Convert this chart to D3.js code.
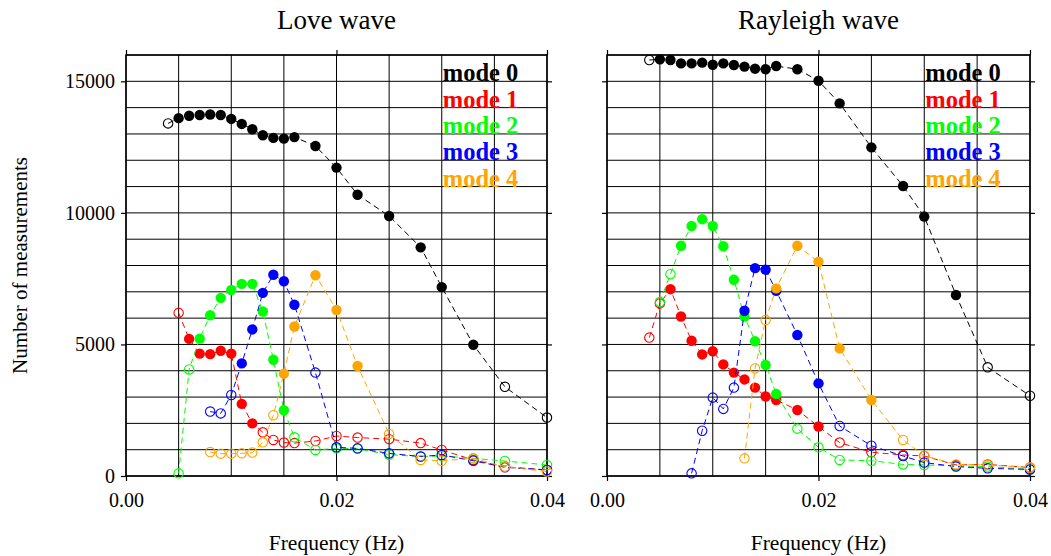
<!DOCTYPE html>
<html>
<head>
<meta charset="utf-8">
<script src="https://cdn.jsdelivr.net/npm/d3@7/dist/d3.min.js"></script>
<style>
  body { margin: 0; background: #fff; }
  text { font-family: "Liberation Serif", "Times New Roman", serif; fill: #000; }
</style>
</head>
<body>
<svg id="chart" width="1051" height="556"></svg>
<script>
// Frequency grid (Hz) shared by every series; null = no measurement at that frequency
const freqs = [0.004, 0.005, 0.006, 0.007, 0.008, 0.009, 0.010, 0.011, 0.012, 0.013, 0.014,
               0.015, 0.016, 0.018, 0.020, 0.022, 0.025, 0.028, 0.030, 0.033, 0.036, 0.040];

const modeNames  = ["mode 0", "mode 1", "mode 2", "mode 3", "mode 4"];
const modeColors = ["#000000", "#ff0000", "#00ff00", "#0000ff", "#ffa500"];

// Love wave: number of measurements per mode
const loveMode0 = [13400, 13600, 13690, 13720, 13740, 13720, 13570, 13380, 13180, 12950, 12850,
                   12820, 12880, 12540, 11720, 10690, 9880, 8690, 7180, 4990, 3390, 2220];
const loveMode1 = [null, 6200, 5210, 4650, 4630, 4760, 4650, 2740, 2000, 1660, 1370,
                   1270, 1250, 1330, 1520, 1460, 1400, 1250, 990, 610, 350, 230];
const loveMode2 = [null, 100, 4050, 5220, 6110, 6770, 7070, 7300, 7300, 6250, 4420,
                   2500, 1470, 990, 1050, 1040, 810, 740, 760, 670, 570, 420];
const loveMode3 = [null, null, null, null, 2450, 2380, 3080, 4280, 5570, 6960, 7650,
                   7400, 6510, 3930, 1090, 1050, 860, 740, 800, 580, 330, 230];
const loveMode4 = [null, null, null, null, 910, 850, 850, 860, 890, 1280, 2310,
                   3890, 5680, 7630, 6310, 4180, 1600, 610, 580, 670, 350, 170];

// Love wave: 1 = filled marker, 0 = open marker
const loveFilled0 = [0,1,1,1,1,1,1,1,1,1,1,1,1,1,1,1,1,1,1,1,0,0];
const loveFilled1 = [0,0,1,1,1,1,1,1,1,0,0,0,0,0,0,0,0,0,0,0,0,0];
const loveFilled2 = [0,0,0,1,1,1,1,1,1,1,1,1,0,0,0,0,0,0,0,0,0,0];
const loveFilled3 = [0,0,0,0,0,0,0,1,1,1,1,1,1,0,0,0,0,0,0,0,0,0];
const loveFilled4 = [0,0,0,0,0,0,0,0,0,0,0,1,1,1,1,1,0,0,0,0,0,0];

// Rayleigh wave: number of measurements per mode
const rayleighMode0 = [15810, 15835, 15810, 15680, 15680, 15710, 15630, 15680, 15620, 15560, 15480,
                       15460, 15580, 15460, 15020, 14160, 12490, 11020, 9860, 6880, 4130, 3050];
const rayleighMode1 = [5260, 6560, 7100, 6060, 5140, 4620, 4740, 4240, 3930, 3670, 3360,
                       3020, 2890, 2510, 1880, 1270, 900, 800, 760, 420, 440, 320];
const rayleighMode2 = [null, 6610, 7670, 8750, 9500, 9760, 9500, 8730, 7460, 6060, 5120,
                       4220, 3120, 1800, 1090, 610, 580, 440, 420, 380, 360, 250];
const rayleighMode3 = [null, null, null, null, 100, 1720, 2980, 2550, 3360, 6280, 7900,
                       7840, 7040, 5360, 3520, 1900, 1150, 760, 510, 360, 290, 250];
const rayleighMode4 = [null, null, null, null, null, null, null, null, null, 670, 4090,
                       5930, 7130, 8750, 8140, 4850, 2890, 1370, 770, 440, 420, 320];

const rayleighFilled0 = [0,1,1,1,1,1,1,1,1,1,1,1,1,1,1,1,1,1,1,1,0,0];
const rayleighFilled1 = [0,0,1,1,1,1,1,1,1,1,1,1,1,1,1,0,0,0,0,0,0,0];
const rayleighFilled2 = [0,0,0,1,1,1,1,1,1,1,1,1,1,0,0,0,0,0,0,0,0,0];
const rayleighFilled3 = [0,0,0,0,0,0,0,0,0,1,1,1,1,1,1,0,0,0,0,0,0,0];
const rayleighFilled4 = [0,0,0,0,0,0,0,0,0,0,0,0,1,1,1,1,1,0,0,0,0,0];

// Axis ticks
const xTicks = [0, 0.02, 0.04];
const yTicks = [0, 5000, 10000, 15000];
const xGridStep = 0.005;
const yGridStep = 1000;
const xDomain = [0, 0.04];
const yDomain = [0, 16000];

const panels = [
  { title: "Love wave", left: 126, right: 547, yLabels: true,
    counts: [loveMode0, loveMode1, loveMode2, loveMode3, loveMode4],
    filled: [loveFilled0, loveFilled1, loveFilled2, loveFilled3, loveFilled4] },
  { title: "Rayleigh wave", left: 607, right: 1030, yLabels: false,
    counts: [rayleighMode0, rayleighMode1, rayleighMode2, rayleighMode3, rayleighMode4],
    filled: [rayleighFilled0, rayleighFilled1, rayleighFilled2, rayleighFilled3, rayleighFilled4] }
];

const plotTop = 55, plotBottom = 476;
const svg = d3.select("#chart");

panels.forEach(p => {
  const x = d3.scaleLinear().domain(xDomain).range([p.left, p.right]);
  const y = d3.scaleLinear().domain(yDomain).range([plotBottom, plotTop]);
  const g = svg.append("g");

  // grid
  const xs = d3.range(0, xDomain[1] + 1e-9, xGridStep);
  const ys = d3.range(0, yDomain[1] + 1e-9, yGridStep);
  g.append("g").selectAll("line").data(xs).join("line")
    .attr("x1", d => x(d)).attr("x2", d => x(d))
    .attr("y1", plotTop).attr("y2", plotBottom)
    .attr("stroke", "#000").attr("stroke-width", 1);
  g.append("g").selectAll("line").data(ys).join("line")
    .attr("x1", p.left).attr("x2", p.right)
    .attr("y1", d => y(d)).attr("y2", d => y(d))
    .attr("stroke", "#000").attr("stroke-width", 1);

  // axes with outward major ticks on every side
  const styleAxis = sel => {
    sel.select(".domain").remove();
    sel.selectAll(".tick line").attr("stroke", "#000").attr("stroke-width", 1.2);
    sel.selectAll(".tick text").style("font-size", "20px")
      .style("font-family", '"Liberation Serif", serif');
  };
  g.append("g").attr("transform", `translate(0,${plotBottom})`)
    .call(d3.axisBottom(x).tickValues(xTicks).tickSize(5).tickPadding(12).tickFormat(d3.format(".2f")))
    .call(styleAxis);
  g.append("g").attr("transform", `translate(0,${plotTop})`)
    .call(d3.axisTop(x).tickValues(xTicks).tickSize(5).tickFormat(""))
    .call(styleAxis);
  g.append("g").attr("transform", `translate(${p.left},0)`)
    .call(d3.axisLeft(y).tickValues(yTicks).tickSize(5).tickPadding(6)
      .tickFormat(p.yLabels ? d3.format("d") : ""))
    .call(styleAxis);
  g.append("g").attr("transform", `translate(${p.right},0)`)
    .call(d3.axisRight(y).tickValues(yTicks).tickSize(5).tickFormat(""))
    .call(styleAxis);

  // frame
  g.append("rect").attr("x", p.left).attr("y", plotTop)
    .attr("width", p.right - p.left).attr("height", plotBottom - plotTop)
    .attr("fill", "none").attr("stroke", "#000").attr("stroke-width", 1.5);

  // series: dashed connecting line, filled or open circles
  p.counts.forEach((vals, m) => {
    const pts = freqs.map((f, i) => ({ f, v: vals[i], filled: p.filled[m][i] }))
      .filter(d => d.v !== null);
    const line = d3.line().x(d => x(d.f)).y(d => y(d.v));
    const sg = g.append("g");
    sg.append("path").attr("d", line(pts))
      .attr("fill", "none").attr("stroke", modeColors[m])
      .attr("stroke-width", 1).attr("stroke-dasharray", "6,4");
    sg.selectAll("circle").data(pts).join("circle")
      .attr("cx", d => x(d.f)).attr("cy", d => y(d.v))
      .attr("r", d => d.filled ? 5.2 : 4.7)
      .attr("fill", d => d.filled ? modeColors[m] : "none")
      .attr("stroke", modeColors[m])
      .attr("stroke-width", d => d.filled ? 0 : 1.1);
  });

  // legend
  modeNames.forEach((name, m) => {
    g.append("text").attr("x", x(0.03) + 1).attr("y", y(15000 - m * 1000))
      .style("fill", modeColors[m])
      .style("font-size", "24.5px").style("font-weight", "bold")
      .text(name);
  });

  // titles
  g.append("text").attr("x", (p.left + p.right) / 2).attr("y", 29)
    .attr("text-anchor", "middle").style("font-size", "27px").text(p.title);
  g.append("text").attr("x", (p.left + p.right) / 2).attr("y", 550)
    .attr("text-anchor", "middle").style("font-size", "21.5px").text("Frequency (Hz)");
});

svg.append("text")
  .attr("transform", `translate(27,${(plotTop + plotBottom) / 2}) rotate(-90)`)
  .attr("text-anchor", "middle").style("font-size", "21px")
  .text("Number of measurements");
</script>
</body>
</html>
